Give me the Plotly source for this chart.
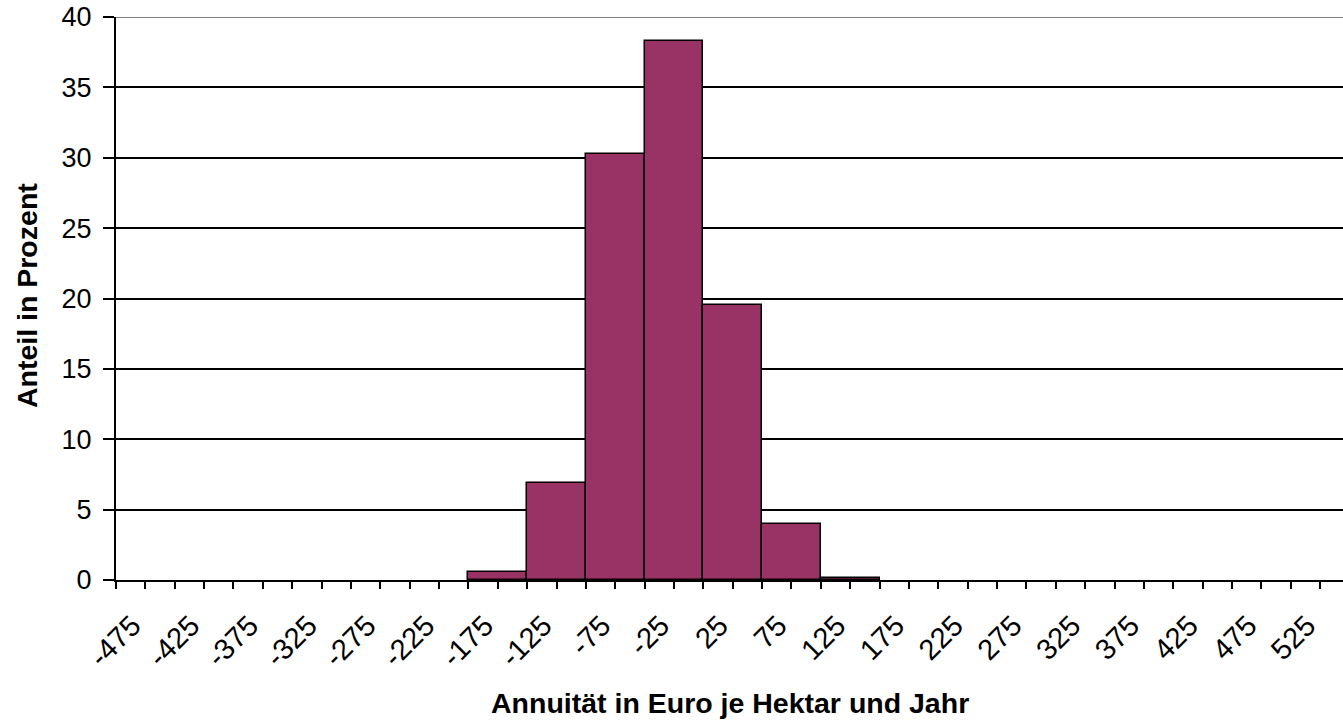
import plotly.graph_objects as go

# Histogram classes (centre of each 50-euro class) and share in percent
categories = [-475, -425, -375, -325, -275, -225, -175, -125, -75, -25, 25,
              75, 125, 175, 225, 275, 325, 375, 425, 475, 525]
shares = [0, 0, 0, 0, 0, 0, 0.55, 6.9, 30.25, 38.3, 19.55,
          4.0, 0.15, 0, 0, 0, 0, 0, 0, 0, 0]
tick_labels = [str(c) for c in categories]
y_ticks = [0, 5, 10, 15, 20, 25, 30, 35, 40]

x_title = "Annuität in Euro je Hektar und Jahr"
y_title = "Anteil in Prozent"

font_family = "Liberation Sans, Arial, sans-serif"

# empty classes get no outline (Excel draws nothing there)
outline = [1.5 if v > 0 else 0 for v in shares]

fig = go.Figure()
fig.add_trace(go.Bar(
    x=categories, y=shares, width=50,
    marker=dict(color="#993366", line=dict(color="black", width=outline)),
    showlegend=False, hoverinfo="x+y",
))

fig.update_layout(
    width=1343, height=722,
    margin=dict(l=116, r=0, t=17, b=142),
    plot_bgcolor="white", paper_bgcolor="white",
    font=dict(family=font_family, size=27, color="black"),
    bargap=0,
)

fig.update_xaxes(
    range=[-500, 544.5], automargin=False,
    tickmode="array", tickvals=categories, ticktext=tick_labels,
    tickangle=-45, ticks="outside", ticklen=7, tickwidth=2, tickcolor="black",
    tickfont=dict(size=29), ticklabelstandoff=8, ticklabelshift=-13,
    minor=dict(tick0=-500, dtick=50, ticks="outside", ticklen=7, tickwidth=2,
               tickcolor="black", showgrid=False),
    showline=True, linecolor="black", linewidth=2,
    showgrid=False, zeroline=False,
)

fig.update_yaxes(
    range=[0, 40], automargin=False, tickmode="array", tickvals=y_ticks,
    ticks="outside", ticklen=11, tickwidth=2, tickcolor="black",
    showline=True, linecolor="black", linewidth=2,
    showgrid=True, gridcolor="black", gridwidth=1.5, zeroline=False,
    ticklabelstandoff=6,
)

# top border of the plot area is grey
fig.add_shape(type="line", xref="paper", yref="y", x0=0, x1=1, y0=40, y1=40,
              line=dict(color="#808080", width=2))

fig.add_annotation(text=x_title, xref="paper", yref="paper", x=0.50, y=-0.2185,
                   xanchor="center", yanchor="middle", showarrow=False,
                   font=dict(size=28.5, family=font_family, weight="bold"))
fig.add_annotation(text=y_title, xref="paper", yref="paper", x=-0.0725, y=0.5044,
                   xanchor="center", yanchor="middle", textangle=-90, showarrow=False,
                   font=dict(size=28.5, family=font_family, weight="bold"))

# drop the default 8px page margin so the figure sits at the window's corner
fig.write_html("out.html", config={"displayModeBar": False},
               post_script="document.body.style.margin='0';")
